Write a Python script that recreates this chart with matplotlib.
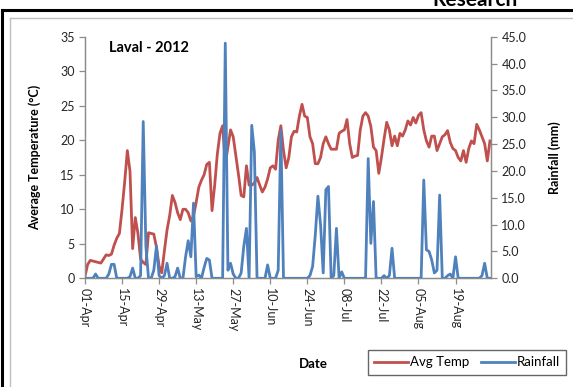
import matplotlib
matplotlib.use("Agg")
import matplotlib.pyplot as plt
import matplotlib.dates as mdates
from matplotlib.lines import Line2D
import pandas as pd
import numpy as np

plt.rcParams['font.family'] = ['Lato', 'DejaVu Sans']

# ---- data -------------------------------------------------------------
start_date = "2012-04-01"
avg_temp = [
    0.3, 2.0, 2.6, 2.5, 2.4, 2.3, 2.2, 2.8, 3.4, 3.3,
    3.5, 4.8, 5.8, 6.5, 10.0, 14.0, 18.5, 15.5, 4.3, 8.8,
    6.5, 2.8, 2.3, 2.0, 6.6, 6.5, 6.4, 4.5, 1.8, 0.8,
    4.0, 7.0, 9.1, 12.0, 11.0, 9.5, 8.5, 10.0, 10.0, 9.5,
    8.3, 9.0, 11.0, 13.2, 14.2, 15.0, 16.5, 16.8, 9.8, 13.5,
    18.0, 21.0, 22.1, 16.5, 19.0, 21.5, 20.5, 17.8, 15.0, 12.0,
    11.8, 16.3, 13.5, 13.5, 13.8, 14.6, 13.5, 12.5, 13.2, 14.4,
    16.0, 16.3, 15.8, 20.0, 22.1, 18.5, 16.0, 17.5, 20.5, 21.3,
    21.2, 23.5, 25.2, 23.5, 23.3, 20.5, 19.5, 16.6, 16.6, 17.5,
    19.5, 20.5, 19.5, 18.7, 18.7, 18.7, 21.0, 21.3, 21.5, 23.0,
    19.5, 17.5, 17.7, 17.8, 21.5, 23.5, 24.0, 23.5, 22.0, 19.0,
    18.5, 15.2, 17.5, 20.2, 22.6, 21.5, 19.2, 20.6, 19.2, 21.0,
    20.6, 21.5, 22.8, 22.2, 23.3, 22.5, 23.6, 24.0, 21.5, 19.9,
    19.0, 20.6, 20.6, 18.5, 19.5, 20.5, 20.8, 21.4, 19.7, 18.8,
    18.5, 17.5, 17.0, 18.5, 16.8, 18.8, 19.9, 19.5, 22.3, 21.5,
    20.5, 19.5, 17.0, 19.9,
]
rainfall = [
    0, 0, 0, 0, 0.8, 0, 0, 0, 0, 0.8,
    2.6, 2.6, 0, 0, 0, 0, 0, 0.3, 1.9, 0,
    0, 0.5, 29.2, 6.0, 0, 0, 1.5, 6.0, 0.5, 0,
    0.5, 2.8, 0, 0, 0.3, 1.9, 0, 0, 4.0, 7.0,
    4.0, 14.0, 0.3, 0.6, 0, 2.0, 3.7, 3.4, 0, 0,
    0, 0, 0, 43.8, 1.5, 2.8, 0.8, 0, 0, 1.0,
    6.0, 9.3, 0, 28.5, 23.5, 0, 0, 0, 0, 2.5,
    0, 0, 0, 1.5, 27.5, 0, 0, 0, 0, 0,
    0, 0, 0, 0, 0, 0.5, 2.2, 8.0, 15.3, 10.0,
    1.0, 16.5, 17.1, 0, 0.5, 9.3, 0, 1.2, 0, 0,
    0, 0, 0, 0, 0, 0, 0, 22.3, 6.5, 14.3,
    0, 0, 0, 0.5, 0, 0.5, 5.6, 0, 0, 0,
    0, 0, 0, 0, 0, 0, 0, 0, 18.3, 5.3,
    5.0, 3.4, 1.0, 1.5, 15.5, 0, 0, 0.5, 0.8, 0,
    4.0, 0, 0, 0, 0, 0, 0, 0, 0, 0,
    0.5, 2.8, 0, 0,
]
tick_labels = ["01-Apr", "15-Apr", "29-Apr", "13-May", "27-May", "10-Jun",
               "24-Jun", "08-Jul", "22-Jul", "05-Aug", "19-Aug"]
temp_ticks = [0, 5, 10, 15, 20, 25, 30, 35]
rain_ticks = [0, 5, 10, 15, 20, 25, 30, 35, 40, 45]
title_text = "Laval - 2012"

dates = pd.date_range(start_date, periods=len(avg_temp), freq="D")
tick_dates = pd.to_datetime([f"2012-{l.split('-')[1]}-{l.split('-')[0]}" for l in tick_labels],
                            format="%Y-%b-%d")

# ---- figure -----------------------------------------------------------
W, H = 573, 387
fig = plt.figure(figsize=(W / 100, H / 100), dpi=100)
fig.patch.set_facecolor("white")

L, R, T, B = 85, 491, 36.7, 278.3
ax = fig.add_axes([L / W, 1 - B / H, (R - L) / W, (B - T) / H])
ax2 = ax.twinx()

red = "#C0504D"
blue = "#4F81BD"
grey = "#8C8C8C"
txt = "#262626"

l1, = ax.plot(dates, avg_temp, color=red, lw=2.0, label="Avg Temp", zorder=2)
l2, = ax2.plot(dates, rainfall, color=blue, lw=2.0, label="Rainfall", zorder=3)

x0 = pd.Timestamp(start_date)
ax.set_xlim(x0, x0 + pd.Timedelta(days=153.4))
ax.set_ylim(0, 35)
ax2.set_ylim(0, 45)

ax.set_xticks(tick_dates)
ax.set_xticklabels(tick_labels, rotation=-90, fontsize=9, color=txt)
ax.set_yticks(temp_ticks)
ax.set_yticklabels([str(v) for v in temp_ticks], fontsize=9, color=txt)
ax2.set_yticks(rain_ticks)
ax2.set_yticklabels([f"{v:.1f}" for v in rain_ticks], fontsize=9, color=txt)

for a in (ax, ax2):
    a.spines["top"].set_visible(False)
    for s in ("left", "right", "bottom"):
        a.spines[s].set_color(grey)
        a.spines[s].set_linewidth(0.9)
    a.tick_params(colors=grey, labelcolor=txt, length=4, width=0.9, direction="out")
ax.tick_params(axis="x", pad=3)
ax.set_facecolor("none")

ax.set_ylabel("Average Temperature (°C)", fontsize=9, fontweight="bold", color="black")
ax.yaxis.set_label_coords(-0.108, 0.5)
ax2.set_ylabel("Rainfall (mm)", fontsize=9, fontweight="bold", color="black", rotation=90)
ax2.yaxis.set_label_coords(1.142, 0.5)
ax.set_xlabel("Date", fontsize=9.5, fontweight="bold", color="black")
ax.xaxis.set_label_coords((313 - L) / (R - L), (B - 358) / (B - T))

ax.text(0.058, 0.955, title_text, transform=ax.transAxes, fontsize=10.5,
        fontweight="bold", color="black", va="center", ha="left")

leg = fig.legend(handles=[l1, l2], loc="center",
                 bbox_to_anchor=((366 + 568) / 2 / W, 1 - 362.5 / H),
                 ncol=2, fontsize=9.5, frameon=True, fancybox=False,
                 handlelength=2.6, handletextpad=0.1, columnspacing=0.9,
                 borderpad=0.5, edgecolor="#404040")
leg.get_frame().set_linewidth(1.0)

# ---- outer frames -----------------------------------------------------
fig.add_artist(Line2D([2 / W, 2 / W], [0, 1 - 10 / H], color="black", lw=2.2,
                      transform=fig.transFigure))
fig.add_artist(Line2D([2 / W, 1], [1 - 10 / H, 1 - 10 / H], color="black", lw=2.2,
                      transform=fig.transFigure))
fig.add_artist(Line2D([10 / W, 10 / W], [0, 1 - 18 / H], color="#BFBFBF", lw=1.0,
                      transform=fig.transFigure))
fig.add_artist(Line2D([10 / W, 1], [1 - 18 / H, 1 - 18 / H], color="#BFBFBF", lw=1.0,
                      transform=fig.transFigure))
fig.text(432 / W, 1 - 6 / H, "Research", fontsize=15, fontweight="bold",
         color="black", va="baseline", ha="left")

fig.savefig("out.png", dpi=100)
